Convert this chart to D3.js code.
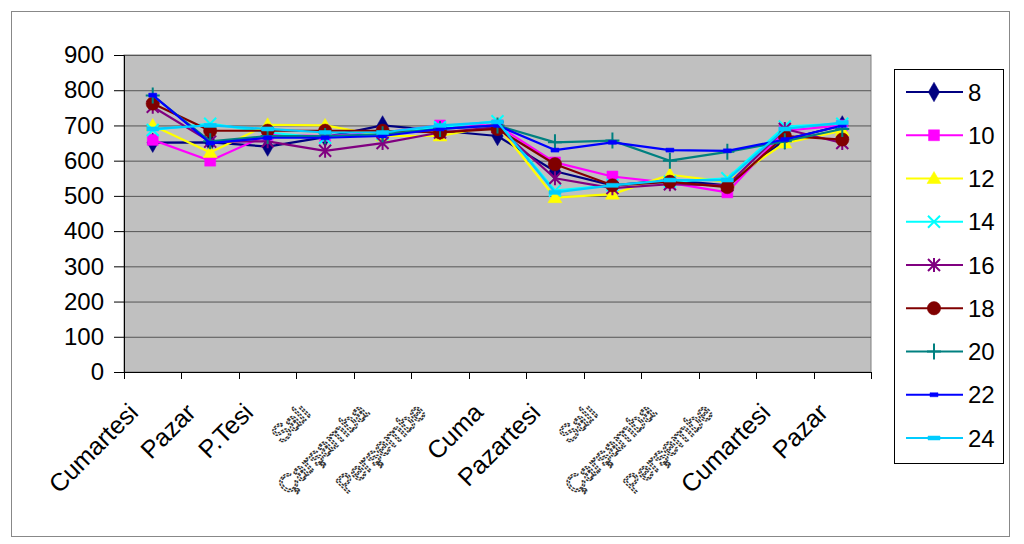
<!DOCTYPE html>
<html>
<head>
<meta charset="utf-8">
<script src="https://cdn.jsdelivr.net/npm/d3@7"></script>
<style>
  body { margin: 0; background: #fff; }
  svg { display: block; font-family: Arial, "Liberation Sans", sans-serif; }
</style>
</head>
<body>
<svg id="chart" width="1024" height="544"></svg>
<script>
// categories along the x axis (two weeks, with a few odd glyphs in the original)
const days = ["Cumartesi", "Pazar", "P.Tesi", "Salı", "Çarşamba", "Perşembe", "Cuma",
  "Pazartesi", "Salı", "Çarşamba", "Perşembe", "Cumartesi", "Pazar"];
// labels that were drawn with the broken fallback font
const brokenLabels = ["Salı", "Çarşamba", "Perşembe"];

const yTicks = [0, 100, 200, 300, 400, 500, 600, 700, 800, 900];

// one array per hour series
const h8  = [651, 652, 640, 667, 700, 685, 670, 570, 530, 545, 530, 660, 700];
const h10 = [659, 600, 673, 670, 680, 700, 700, 595, 555, 537, 510, 685, 700];
const h12 = [700, 623, 702, 700, 670, 670, 700, 495, 505, 560, 540, 650, 685];
const h14 = [687, 705, 680, 665, 675, 695, 712, 515, 531, 540, 550, 697, 705];
const h16 = [753, 654, 655, 628, 650, 680, 695, 550, 522, 533, 530, 690, 650];
const h18 = [762, 685, 685, 685, 685, 680, 690, 590, 530, 540, 525, 670, 660];
const h20 = [785, 655, 670, 670, 675, 690, 700, 652, 657, 600, 625, 655, 690];
const h22 = [786, 650, 665, 665, 670, 690, 700, 630, 652, 630, 628, 660, 700];
const h24 = [690, 700, 690, 680, 680, 700, 710, 510, 530, 545, 545, 690, 708];

const seriesNames = ["8", "10", "12", "14", "16", "18", "20", "22", "24"];
const seriesValues = [h8, h10, h12, h14, h16, h18, h20, h22, h24];
const seriesColors = ["#000080", "#FF00FF", "#FFFF00", "#00FFFF", "#800080", "#800000", "#008080", "#0000FF", "#00CCFF"];
const seriesMarkers = ["diamond", "square", "triangle", "x", "star", "circle", "plus", "dash", "wideDash"];

const svg = d3.select("#chart");

// outer chart border
svg.append("rect")
  .attr("x", 11.5).attr("y", 11.5)
  .attr("width", 998).attr("height", 525)
  .attr("fill", "#fff").attr("stroke", "#888").attr("stroke-width", 1);

const plot = {left: 124, right: 871, top: 55, bottom: 372};

const x = d3.scaleBand()
  .domain(d3.range(days.length))
  .range([plot.left, plot.right]);

const y = d3.scaleLinear()
  .domain([0, 900])
  .range([plot.bottom, plot.top]);

// plot area
svg.append("rect")
  .attr("x", plot.left).attr("y", plot.top)
  .attr("width", plot.right - plot.left).attr("height", plot.bottom - plot.top)
  .attr("fill", "#C0C0C0").attr("stroke", "#808080");

// grid lines
svg.append("g")
  .selectAll("line")
  .data(yTicks.filter(d => d > 0))
  .join("line")
    .attr("x1", plot.left).attr("x2", plot.right)
    .attr("y1", d => y(d) + 0.5).attr("y2", d => y(d) + 0.5)
    .attr("stroke", "#555").attr("stroke-width", 1);

// y axis
const yAxis = svg.append("g")
  .attr("transform", `translate(${plot.left},0)`)
  .call(d3.axisLeft(y).tickValues(yTicks).tickSize(10).tickPadding(10));
yAxis.select(".domain").attr("stroke", "#000");
yAxis.selectAll(".tick line").attr("stroke", "#000");
yAxis.selectAll("text").attr("font-size", 24).attr("fill", "#000")
  .attr("font-family", "Arial, 'Liberation Sans', sans-serif");

// x axis: ticks sit at category boundaries
const xg = svg.append("g");
xg.append("line")
  .attr("x1", plot.left).attr("x2", plot.right)
  .attr("y1", plot.bottom + 0.5).attr("y2", plot.bottom + 0.5)
  .attr("stroke", "#000");
xg.selectAll("line.tk")
  .data(d3.range(days.length + 1))
  .join("line")
    .attr("class", "tk")
    .attr("x1", i => Math.round(plot.left + i * x.step()) + 0.5)
    .attr("x2", i => Math.round(plot.left + i * x.step()) + 0.5)
    .attr("y1", plot.bottom).attr("y2", plot.bottom + 7)
    .attr("stroke", "#000");

xg.selectAll("text")
  .data(days)
  .join("text")
    .attr("transform", (d, i) => `translate(${x(i) + x.bandwidth() / 2 - 13},${plot.bottom + 42}) rotate(-45)`)
    .attr("text-anchor", "end")
    .attr("font-size", 25)
    .each(function(d) {
      const t = d3.select(this);
      if (brokenLabels.includes(d)) {
        t.attr("fill", "none").attr("stroke", "#333").attr("stroke-width", 1.4)
          .attr("stroke-dasharray", "2.5,1.2");
      } else {
        t.attr("fill", "#000");
      }
    })
    .text(d => d);

// marker shapes
function markerPath(kind) {
  switch (kind) {
    case "diamond": return d3.symbol(d3.symbolDiamond, 110)();
    case "square": return d3.symbol(d3.symbolSquare, 120)();
    case "triangle": return "M0,-7L7,5L-7,5Z";
    case "circle": return d3.symbol(d3.symbolCircle, 140)();
    case "x": return "M-6,-6L6,6M-6,6L6,-6";
    case "star": return "M-6,-6L6,6M-6,6L6,-6M0,-7L0,7";
    case "plus": return "M-7,0L7,0M0,-8L0,8";
    case "dash": return "M-4,-2H4V2H-4Z";
    case "wideDash": return "M-6,-2H6V2H-6Z";
  }
}
const strokeMarkers = ["x", "star", "plus"];

const line = d3.line()
  .x((d, i) => x(i) + x.bandwidth() / 2)
  .y(d => y(d));

seriesValues.forEach((vals, s) => {
  const g = svg.append("g");
  g.append("path")
    .attr("d", line(vals))
    .attr("fill", "none")
    .attr("stroke", seriesColors[s])
    .attr("stroke-width", 2.2)
    .attr("stroke-linejoin", "round");
  const kind = seriesMarkers[s];
  g.selectAll("path.mk")
    .data(vals)
    .join("path")
      .attr("class", "mk")
      .attr("transform", (d, i) => `translate(${x(i) + x.bandwidth() / 2},${y(d)})`)
      .attr("d", markerPath(kind))
      .attr("fill", strokeMarkers.includes(kind) ? "none" : seriesColors[s])
      .attr("stroke", seriesColors[s])
      .attr("stroke-width", strokeMarkers.includes(kind) ? 2 : 0.5);
});

// legend
const legend = svg.append("g");
legend.append("rect")
  .attr("x", 894.5).attr("y", 69.5)
  .attr("width", 109).attr("height", 394)
  .attr("fill", "#fff").attr("stroke", "#000").attr("stroke-width", 1);

const legendY = d3.scalePoint()
  .domain(seriesNames)
  .range([92, 438]);

seriesNames.forEach((name, s) => {
  const ly = legendY(name);
  const kind = seriesMarkers[s];
  legend.append("line")
    .attr("x1", 906).attr("x2", 963)
    .attr("y1", ly).attr("y2", ly)
    .attr("stroke", seriesColors[s]).attr("stroke-width", 2.2);
  legend.append("path")
    .attr("transform", `translate(934,${ly})`)
    .attr("d", markerPath(kind))
    .attr("fill", strokeMarkers.includes(kind) ? "none" : seriesColors[s])
    .attr("stroke", seriesColors[s])
    .attr("stroke-width", strokeMarkers.includes(kind) ? 2 : 0.5);
  legend.append("text")
    .attr("x", 968).attr("y", ly)
    .attr("dy", "0.36em")
    .attr("font-size", 24)
    .attr("fill", "#000")
    .text(name);
});
</script>
</body>
</html>
